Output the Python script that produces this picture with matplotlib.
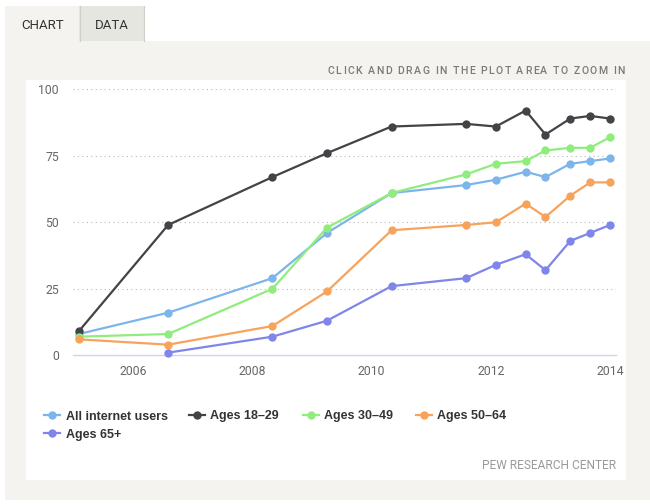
import numpy as np
import matplotlib
matplotlib.use("Agg")
import matplotlib.pyplot as plt
from matplotlib.patches import Rectangle
from matplotlib.lines import Line2D
from matplotlib.font_manager import FontProperties

# survey dates (year, month) and share of internet users on social networking sites
survey_dates = [(2005, 2), (2006, 8), (2008, 5), (2009, 4), (2010, 5), (2011, 8),
                (2012, 2), (2012, 8), (2012, 12), (2013, 5), (2013, 9), (2014, 1)]
all_users = [8, 16, 29, 46, 61, 64, 66, 69, 67, 72, 73, 74]
ages_18_29 = [9, 49, 67, 76, 86, 87, 86, 92, 83, 89, 90, 89]
ages_30_49 = [7, 8, 25, 48, 61, 68, 72, 73, 77, 78, 78, 82]
ages_50_64 = [6, 4, 11, 24, 47, 49, 50, 57, 52, 60, 65, 65]
ages_65_plus = [np.nan, 1, 7, 13, 26, 29, 34, 38, 32, 43, 46, 49]

series_names = ["All internet users", "Ages 18\u201329", "Ages 30\u201349",
                "Ages 50\u201364", "Ages 65+"]
series_values = [all_users, ages_18_29, ages_30_49, ages_50_64, ages_65_plus]
colors = ["#7cb5ec", "#434348", "#90ed7d", "#f7a35c", "#8085e9"]

x_ticks = [2006, 2008, 2010, 2012, 2014]
y_ticks = [0, 25, 50, 75, 100]

W, H = 650, 504


def px(x, y):
    # pixel coords (top-left origin) -> figure fraction
    return x / W, 1 - y / H


def rect(fig, x0, y0, x1, y1, color):
    fx, fy = px(x0, y1)
    fig.patches.append(Rectangle((fx, fy), (x1 - x0) / W, (y1 - y0) / H,
                                 transform=fig.transFigure, facecolor=color,
                                 edgecolor="none", zorder=-10))


fig = plt.figure(figsize=(W / 100, H / 100), dpi=100)
fig.patch.set_facecolor("white")

beige = "#f4f3ef"
rect(fig, 5, 6, 79, 42, beige)                      # CHART tab
rect(fig, 79, 6, 144, 41, "#e6e6e0")                # DATA tab
fig.add_artist(Line2D([79.5 / W, 79.5 / W], [1 - 6 / H, 1 - 41 / H], color="#cfcfc8", lw=0.8))
fig.add_artist(Line2D([143.5 / W, 143.5 / W], [1 - 6 / H, 1 - 41 / H], color="#cfcfc8", lw=0.8))
rect(fig, 5, 41, 650, 500, beige)                   # panel
rect(fig, 26, 80, 626, 480, "white")                # chart area

tab_font = dict(family="Roboto", size=9.5, color="#333333", va="baseline")
fig.text(*px(21, 28.7), "CHART", **tab_font)
fig.text(*px(95, 28.7), "DATA", **tab_font)

# letter-spaced hint text
fig.canvas.draw()
renderer = fig.canvas.get_renderer()
hint = "CLICK AND DRAG IN THE PLOT AREA TO ZOOM IN"
hint_fp = FontProperties(family="Roboto", size=7.6, weight="medium")
widths = [renderer.get_text_width_height_descent(c if c != " " else "\u00a0", hint_fp, ismath=False)[0]
          for c in hint]
left, right = 327.5, 625
spacing = (right - left - sum(widths)) / (len(hint) - 1)
xc = left
for c, w in zip(hint, widths):
    fig.text(*px(xc, 74), c, fontproperties=hint_fp, color="#7a7a7a", va="baseline")
    xc += w + spacing

ax = fig.add_axes([73 / W, (H - 355.3) / H, 543 / W, 266 / H])
ax.set_facecolor("none")
ax.set_zorder(2)

x_vals = [y + (m - 1) / 12 for y, m in survey_dates]
for name, vals, col in zip(series_names, series_values, colors):
    ax.plot(x_vals, vals, color=col, lw=1.6, marker="o", markersize=6,
            markeredgewidth=0, label=name, clip_on=False, zorder=3)

ax.set_xlim(2004.987, 2014.10)
ax.set_ylim(0, 100)
ax.set_xticks(x_ticks)
ax.set_yticks(y_ticks)
ax.tick_params(length=0, labelsize=8.8, labelcolor="#666666")
ax.tick_params(axis="y", pad=10)
ax.tick_params(axis="x", pad=7)
for lab in ax.get_xticklabels() + ax.get_yticklabels():
    lab.set_family("Roboto")
for s in ["top", "left", "right"]:
    ax.spines[s].set_visible(False)
ax.spines["bottom"].set_color("#ccd6eb")
ax.spines["bottom"].set_linewidth(1)
for yv in y_ticks[1:]:
    ax.axhline(yv, color="#b8b8b8", lw=0.8, ls=(0, (1, 3)), zorder=1)

# legend, laid out like the original
legend_pos = [(52, 415), (197, 415), (311, 415), (423.5, 415), (52, 433.3)]
for (cx, cy), name, col in zip(legend_pos, series_names, colors):
    fx0, fy = px(cx - 8, cy)
    fx1, _ = px(cx + 8, cy)
    fig.add_artist(Line2D([fx0, fx1], [fy, fy], color=col, lw=1.6))
    fig.add_artist(Line2D([(fx0 + fx1) / 2], [fy], color=col, marker="o",
                          markersize=6, markeredgewidth=0))
    fig.text(*px(cx + 13.5, cy + 4.5), name, family="Liberation Sans",
             weight="bold", size=9, color="#333333", va="baseline")

fig.text(*px(616, 469), "PEW RESEARCH CENTER", family="Roboto", size=8.6,
         color="#999999", ha="right", va="baseline")

fig.savefig("out.png", dpi=100, facecolor="white")
